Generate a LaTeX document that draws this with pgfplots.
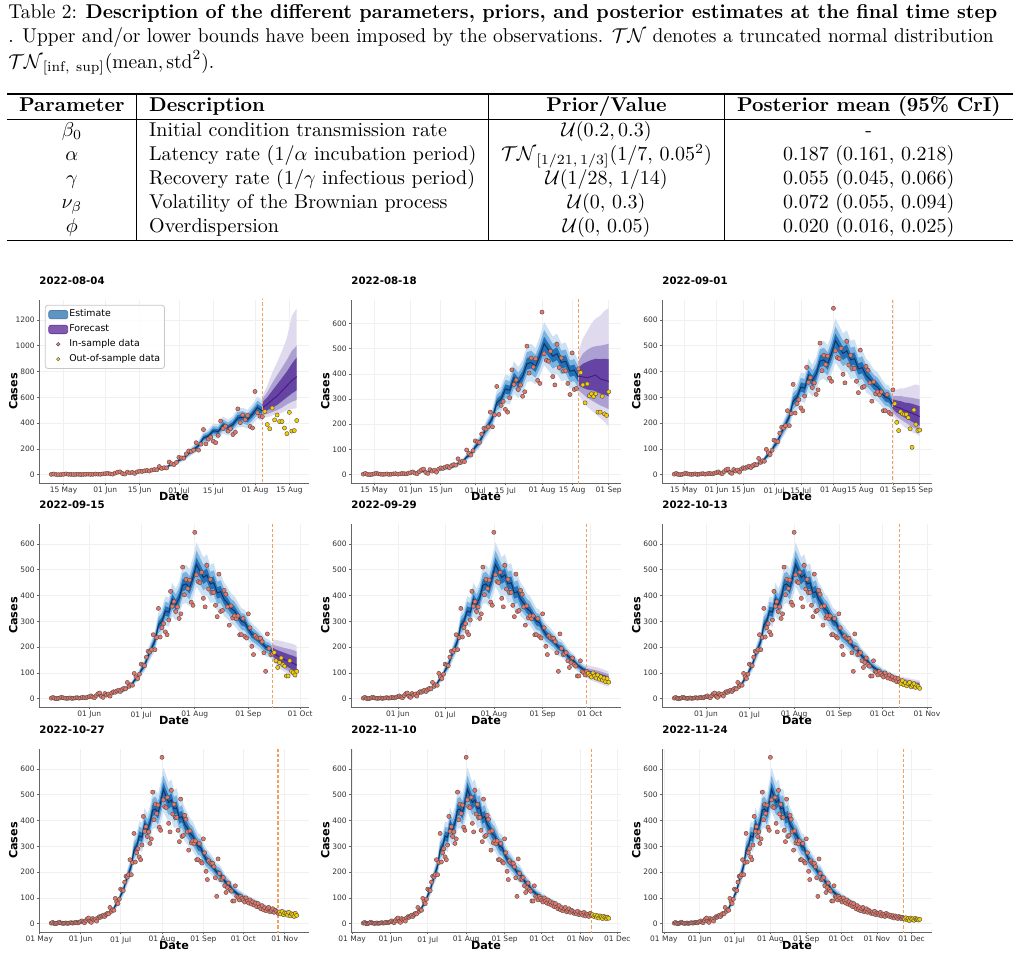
\documentclass[border=0pt]{standalone}
\usepackage{fontspec}
\usepackage{array}
\usepackage{graphicx}
\usepackage{pgfplots}
\usepackage{pgfplotstable}
\pgfplotsset{compat=1.18}
\usepgfplotslibrary{fillbetween}

\newfontfamily\dejavu{DejaVu Sans}
\newcommand{\tickfont}{\dejavu\fontsize{3.75}{4.3}\selectfont}
\newcommand{\labfont}{\dejavu\bfseries\fontsize{5.6}{6.5}\selectfont}
\newcommand{\titfont}{\dejavu\bfseries\fontsize{5.1}{6}\selectfont}
\newcommand{\legfont}{\dejavu\fontsize{4.7}{5.5}\selectfont}

\definecolor{estL}{HTML}{CDE1F3}
\definecolor{estM}{HTML}{7AB2E0}
\definecolor{estD}{HTML}{2270B5}
\definecolor{estLine}{HTML}{0E3466}
\definecolor{estSw}{HTML}{4682B4}
\definecolor{fcL}{HTML}{DFDAED}
\definecolor{fcM}{HTML}{ABA0D1}
\definecolor{fcD}{HTML}{6544A4}
\definecolor{fcLine}{HTML}{4B1A8C}
\definecolor{fcSw}{HTML}{6B3FA0}
\definecolor{insamp}{HTML}{E87668}
\definecolor{outsamp}{HTML}{F5CD00}
\definecolor{cutcol}{HTML}{F2A060}

% daily reported cases (day 0 = 1 May 2022)
\pgfplotstableread[row sep=\\]{
d c\\
9 2\\ 10 5\\ 11 1\\ 12 0\\ 13 1\\ 14 3\\ 15 6\\ 16 3\\ 17 2\\ 18 1\\ 19 2\\ 20 3\\ 21 1\\ 22 2\\ 23 3\\ 24 4\\ 25 2\\ 26 3\\ 27 5\\ 28 4\\ 29 3\\ 30 6\\
31 8\\ 32 11\\ 33 6\\ 34 4\\ 35 12\\ 36 19\\ 37 22\\ 38 9\\ 39 5\\ 40 20\\ 41 14\\ 42 18\\ 43 10\\ 44 22\\
45 27\\ 46 25\\ 47 30\\ 48 33\\ 49 28\\ 50 36\\ 51 40\\ 52 38\\ 53 63\\ 54 48\\ 55 54\\ 56 52\\ 57 98\\ 58 85\\ 59 78\\ 60 95\\
61 134\\ 62 130\\ 63 128\\ 64 161\\ 65 184\\ 66 181\\ 67 190\\ 68 248\\ 69 190\\ 70 237\\ 71 350\\ 72 239\\ 73 275\\ 74 291\\ 75 259\\ 76 248\\ 77 305\\ 78 416\\ 79 358\\ 80 376\\ 81 338\\ 82 356\\ 83 311\\ 84 329\\ 85 510\\ 86 403\\ 87 463\\ 88 427\\ 89 460\\ 90 374\\ 91 362\\ 92 645\\ 93 480\\ 94 454\\ 95 450\\
96 490\\ 97 389\\ 98 356\\ 99 517\\ 100 425\\ 101 463\\ 102 412\\ 103 412\\ 104 362\\ 105 318\\ 106 483\\ 107 338\\ 108 342\\ 109 420\\
110 405\\ 111 356\\ 112 285\\ 113 360\\ 114 313\\ 115 321\\ 116 310\\ 117 321\\ 118 248\\ 119 248\\ 120 311\\ 121 241\\ 122 235\\ 123 329\\
124 275\\ 125 203\\ 126 171\\ 127 244\\ 128 236\\ 129 234\\ 130 234\\ 131 221\\ 132 178\\ 133 106\\ 134 251\\ 135 195\\ 136 171\\ 137 173\\
138 179\\ 139 147\\ 140 121\\ 141 140\\ 142 158\\ 143 132\\ 144 126\\ 145 88\\ 146 88\\ 147 147\\ 148 106\\ 149 101\\ 150 92\\ 151 106\\
152 98\\ 153 90\\ 154 84\\ 155 100\\ 156 88\\ 157 80\\ 158 92\\ 159 76\\ 160 85\\ 161 72\\ 162 80\\ 163 66\\ 164 78\\ 165 64\\
166 58\\ 167 70\\ 168 54\\ 169 62\\ 170 50\\ 171 58\\ 172 63\\ 173 46\\ 174 52\\ 175 58\\ 176 44\\ 177 52\\ 178 47\\ 179 40\\
180 45\\ 181 38\\ 182 48\\ 183 35\\ 184 42\\ 185 40\\ 186 33\\ 187 44\\ 188 30\\ 189 38\\ 190 35\\ 191 28\\ 192 40\\ 193 32\\
194 35\\ 195 28\\ 196 33\\ 197 25\\ 198 31\\ 199 22\\ 200 30\\ 201 26\\ 202 20\\ 203 28\\ 204 24\\ 205 19\\ 206 25\\ 207 21\\
208 18\\ 209 23\\ 210 15\\ 211 20\\ 212 12\\ 213 22\\ 214 17\\ 215 19\\ 216 13\\ 217 21\\ 218 16\\ 219 18\\ 220 14\\ 221 17\\
}\obstab

% fitted incidence: mean and 50/80/95% credible bands
\pgfplotstableread[row sep=\\]{
d m l1 h1 l2 h2 l3 h3\\
9 2 1 3 0 4 0 5\\ 11 2 1 3 0 4 0 5\\ 13 2 1 3 0 4 0 5\\ 15 3 2 4 1 5 0 6\\ 17 3 2 4 1 5 0 6\\
19 3 2 4 1 5 0 6\\ 21 3 2 4 1 5 0 6\\ 23 3 2 4 1 5 0 6\\ 25 3 2 4 1 5 0 6\\ 27 4 3 5 2 6 0 8\\
29 4 3 5 2 6 0 8\\ 31 6 5 7 3 9 2 10\\ 33 8 7 9 5 11 4 12\\ 35 10 8 12 7 13 5 15\\ 37 13 11 15 10 16 8 18\\
39 12 10 14 9 15 7 17\\ 41 15 13 17 11 19 10 20\\ 43 17 15 19 13 21 11 23\\ 45 20 18 22 16 24 14 26\\ 47 25 23 27 20 30 18 32\\
49 27 25 29 22 32 20 34\\ 51 33 30 36 28 38 25 41\\ 53 45 42 48 38 52 35 55\\ 55 50 46 54 43 57 39 61\\ 57 70 65 75 61 79 56 84\\
59 82 77 87 72 92 66 98\\ 61 110 103 117 97 123 89 131\\ 63 130 122 138 115 145 106 154\\ 65 165 156 174 146 184 136 194\\ 67 195 184 206 173 217 161 229\\
69 225 213 237 200 250 186 264\\ 71 285 270 300 254 316 236 334\\ 73 300 284 316 268 332 249 351\\ 75 340 322 358 304 376 283 397\\ 77 335 317 353 299 371 278 392\\
79 385 365 405 344 426 320 450\\ 81 365 346 384 326 404 304 426\\ 83 390 369 411 349 431 325 455\\ 85 440 417 463 394 486 367 513\\ 87 445 422 468 398 492 371 519\\
89 430 407 453 385 475 358 502\\ 91 470 445 495 421 519 392 548\\ 93 520 493 547 466 574 434 606\\ 95 495 469 521 443 547 413 577\\ 97 470 445 495 421 519 392 548\\
99 480 455 505 430 530 400 560\\ 101 445 422 468 398 492 371 519\\ 103 450 426 474 403 497 375 525\\ 105 410 388 432 367 453 341 479\\ 107 415 393 437 371 459 346 484\\
109 385 365 405 344 426 320 450\\ 111 370 350 390 331 409 308 432\\ 113 350 331 369 313 387 291 409\\ 115 340 322 358 304 376 283 397\\ 117 320 303 337 286 354 266 374\\
119 300 284 316 268 332 249 351\\ 121 295 279 311 263 327 245 345\\ 123 270 255 285 241 299 224 316\\ 125 250 236 264 223 277 207 293\\ 127 240 227 253 214 266 199 281\\
129 228 216 240 203 253 189 267\\ 131 215 203 227 191 239 178 252\\ 133 200 189 211 178 222 165 235\\ 135 195 184 206 173 217 161 229\\ 137 182 172 192 162 202 150 214\\
139 165 156 174 146 184 136 194\\ 141 155 146 164 137 173 127 183\\ 143 145 137 153 128 162 119 171\\ 145 130 122 138 115 145 106 154\\ 147 122 115 129 108 136 99 145\\
149 113 106 120 100 126 92 134\\ 151 108 102 114 95 121 88 128\\ 153 100 94 106 88 112 81 119\\ 155 95 89 101 83 107 77 113\\ 157 90 85 95 79 101 73 107\\
159 86 81 91 75 97 70 102\\ 161 81 76 86 71 91 65 97\\ 163 77 72 82 67 87 62 92\\ 165 71 67 75 62 80 57 85\\ 167 66 62 70 57 75 52 80\\
169 62 58 66 54 70 49 75\\ 171 59 55 63 51 67 47 71\\ 173 55 51 59 47 63 43 67\\ 175 52 48 56 45 59 41 63\\ 177 49 46 52 42 56 38 60\\
179 46 43 49 39 53 36 56\\ 181 44 41 47 38 50 34 54\\ 183 42 39 45 36 48 32 52\\ 185 40 37 43 34 46 31 49\\ 187 38 35 41 32 44 29 47\\
189 36 33 39 30 42 27 45\\ 191 35 32 38 29 41 26 44\\ 193 33 30 36 28 38 25 41\\ 195 31 28 34 26 36 23 39\\ 197 29 27 31 24 34 21 37\\
199 28 26 30 23 33 21 35\\ 201 26 24 28 21 31 19 33\\ 203 25 23 27 20 30 18 32\\ 205 24 22 26 20 28 17 31\\ 207 23 21 25 19 27 16 30\\
}\esttab

% two-week forecasts from each cut-off date
\pgfplotstableread[row sep=\\]{
d m l1 h1 l2 h2 l3 h3\\
95 520 490 560 465 585 445 610\\ 97 545 500 600 470 640 445 690\\ 99 580 520 650 485 710 460 790\\ 101 610 540 700 500 770 470 870\\
103 650 570 750 520 830 480 960\\ 105 690 600 800 545 890 500 1060\\ 107 730 630 860 565 960 510 1230\\ 109 760 655 910 580 1000 515 1290\\
}\fcA
\pgfplotstableread[row sep=\\]{
d m l1 h1 l2 h2 l3 h3\\
109 390 355 425 335 450 315 490\\ 111 388 345 440 320 480 290 540\\ 113 385 338 448 305 495 270 570\\ 115 390 335 455 295 505 255 600\\
117 395 332 460 285 510 240 620\\ 119 380 322 458 275 512 225 630\\ 121 375 318 460 268 515 210 650\\ 123 370 310 458 260 520 190 660\\
}\fcB
\pgfplotstableread[row sep=\\]{
d m l1 h1 l2 h2 l3 h3\\
123 272 255 292 242 305 230 325\\ 125 262 240 288 225 305 210 330\\ 127 258 232 285 215 305 198 335\\ 129 250 222 280 205 302 185 335\\
131 245 215 278 195 300 175 340\\ 133 238 205 275 185 298 165 345\\ 135 232 198 270 178 295 158 350\\ 137 225 190 265 170 292 150 345\\
}\fcC
\pgfplotstableread[row sep=\\]{
d m l1 h1 l2 h2 l3 h3\\
137 182 168 198 158 210 148 230\\ 139 170 152 190 142 205 132 228\\ 141 162 142 185 130 202 118 225\\ 143 155 133 180 120 198 108 222\\
145 148 125 175 112 195 100 218\\ 147 142 118 170 104 192 92 215\\ 149 137 112 166 98 188 85 212\\ 151 130 105 160 92 183 78 205\\
}\fcD
\pgfplotstableread[row sep=\\]{
d m l1 h1 l2 h2 l3 h3\\
151 100 92 110 86 118 80 130\\ 153 97 87 108 81 116 74 128\\ 155 93 82 105 76 113 68 125\\ 157 89 78 101 71 110 63 122\\
159 85 74 98 67 107 59 119\\ 161 81 70 94 63 103 54 115\\ 163 77 66 90 59 99 50 110\\ 165 73 62 86 55 95 46 106\\
}\fcE
\pgfplotstableread[row sep=\\]{
d m l1 h1 l2 h2 l3 h3\\
165 68 62 75 58 80 54 86\\ 167 65 58 72 54 78 50 84\\ 169 62 55 70 50 76 46 82\\ 171 59 52 67 47 73 43 80\\
173 56 49 64 44 70 40 77\\ 175 54 46 62 41 68 37 75\\ 177 52 44 60 39 66 35 73\\ 179 50 42 58 37 64 33 71\\
}\fcF
\pgfplotstableread[row sep=\\]{
d m l1 h1 l2 h2 l3 h3\\
179 45 41 49 38 52 35 56\\ 181 43 39 48 36 51 33 55\\ 183 42 37 47 34 50 31 54\\ 185 40 35 45 32 49 29 53\\
187 38 33 44 30 47 27 51\\ 189 37 32 42 29 46 26 50\\ 191 35 30 41 27 44 24 49\\ 193 34 29 40 26 43 23 48\\
}\fcG
\pgfplotstableread[row sep=\\]{
d m l1 h1 l2 h2 l3 h3\\
193 32 29 35 27 37 25 40\\ 195 31 28 34 26 37 24 40\\ 197 30 27 34 25 36 23 39\\ 199 29 26 33 24 35 22 39\\
201 28 25 32 23 35 21 38\\ 203 27 24 31 22 34 20 37\\ 205 26 23 30 21 33 19 36\\ 207 25 22 29 20 32 18 35\\
}\fcH
\pgfplotstableread[row sep=\\]{
d m l1 h1 l2 h2 l3 h3\\
207 22 20 24 19 26 17 28\\ 209 21 19 24 18 25 16 28\\ 211 21 19 23 17 25 15 27\\ 213 20 18 23 16 25 15 27\\
215 19 17 22 16 24 14 27\\ 217 19 17 22 15 24 14 26\\ 219 18 16 21 15 23 13 26\\ 221 18 16 21 14 23 13 26\\
}\fcI

% bands of the fit up to the cut-off day #1
\newcommand{\drawest}[1]{%
  \addplot[name path=el3, draw=none, forget plot, restrict x to domain=0:#1] table[x=d, y=l3] {\esttab};
  \addplot[name path=eh3, draw=none, forget plot, restrict x to domain=0:#1] table[x=d, y=h3] {\esttab};
  \addplot[fill=estL, draw=none, forget plot] fill between[of=el3 and eh3];
  \addplot[name path=el2, draw=none, forget plot, restrict x to domain=0:#1] table[x=d, y=l2] {\esttab};
  \addplot[name path=eh2, draw=none, forget plot, restrict x to domain=0:#1] table[x=d, y=h2] {\esttab};
  \addplot[fill=estM, draw=none, forget plot] fill between[of=el2 and eh2];
  \addplot[name path=el1, draw=none, forget plot, restrict x to domain=0:#1] table[x=d, y=l1] {\esttab};
  \addplot[name path=eh1, draw=none, forget plot, restrict x to domain=0:#1] table[x=d, y=h1] {\esttab};
  \addplot[fill=estD, draw=none, forget plot] fill between[of=el1 and eh1];
  \addplot[estLine, line width=0.5pt, forget plot, restrict x to domain=0:#1] table[x=d, y=m] {\esttab};
}
% forecast bands from table #1
\newcommand{\drawfc}[1]{%
  \addplot[name path=fl3, draw=none, forget plot] table[x=d, y=l3] {#1};
  \addplot[name path=fh3, draw=none, forget plot] table[x=d, y=h3] {#1};
  \addplot[fill=fcL, draw=none, forget plot] fill between[of=fl3 and fh3];
  \addplot[name path=fl2, draw=none, forget plot] table[x=d, y=l2] {#1};
  \addplot[name path=fh2, draw=none, forget plot] table[x=d, y=h2] {#1};
  \addplot[fill=fcM, draw=none, forget plot] fill between[of=fl2 and fh2];
  \addplot[name path=fl1, draw=none, forget plot] table[x=d, y=l1] {#1};
  \addplot[name path=fh1, draw=none, forget plot] table[x=d, y=h1] {#1};
  \addplot[fill=fcD, draw=none, forget plot] fill between[of=fl1 and fh1];
  \addplot[fcLine, line width=0.5pt, forget plot] table[x=d, y=m] {#1};
}
% observations: in-sample up to #1, out-of-sample up to #2
\newcommand{\drawobs}[2]{%
  \addplot[only marks, mark=*, mark size=1.05pt, mark options={fill=insamp, draw=black!70, line width=0.2pt}, forget plot, restrict x to domain=0:#1] table[x=d, y=c] {\obstab};
  \addplot[only marks, mark=*, mark size=1.05pt, mark options={fill=outsamp, draw=black!70, line width=0.2pt}, forget plot, restrict x to domain=#1.5:#2.5] table[x=d, y=c] {\obstab};
  \addplot[cutcol, line width=0.6pt, dash pattern=on 1.6pt off 1pt, forget plot] coordinates {(#1,-100) (#1,1400)};
}

\pgfplotsset{
  panel/.style={
    scale only axis, width=135pt, height=91.5pt, anchor=north west,
    axis x line*=bottom, axis y line*=left,
    axis line style={draw=black!60, line width=0.4pt},
    grid=major, grid style={draw=black!6, line width=0.3pt},
    major tick length=1.2pt, tick align=outside,
    tick style={draw=black!60, line width=0.3pt},
    ticklabel style={font=\tickfont, text=black!80, inner sep=0.8pt},
    /pgf/number format/assume math mode=true,
    /pgf/number format/1000 sep={},
    xlabel={Date}, ylabel={Cases},
    label style={font=\labfont, inner sep=0pt},
    xlabel style={at={(axis description cs:0.5,-0.05)}, anchor=north},
    ylabel style={at={(axis description cs:-0.078,0.5)}, anchor=south},
    title style={font=\titfont, at={(axis description cs:0,1.02)}, anchor=base west, inner sep=0pt},
    ymin=-32.25, ymax=677.25, ytick={0,100,...,600},
  },
  early/.style={xtick={14,31,45,61,75,92,106,123,137}, xticklabels={15 May,01 Jun,15 Jun,01 Jul,15 Jul,01 Aug,15 Aug,01 Sep,15 Sep}},
  mid/.style={xtick={31,61,92,123,153,184}, xticklabels={01 Jun,01 Jul,01 Aug,01 Sep,01 Oct,01 Nov}},
  late/.style={xtick={0,31,61,92,123,153,184,214}, xticklabels={01 May,01 Jun,01 Jul,01 Aug,01 Sep,01 Oct,01 Nov,01 Dec}},
}

\begin{document}
\begin{tikzpicture}

\node[anchor=base west, inner sep=0pt] at (4pt,-9.5pt) {\resizebox{494.5pt}{\height}{\begin{tabular}[t]{@{}l@{}}
Table 2: \textbf{Description of the different parameters, priors, and posterior estimates at the final time step}\\
. Upper and/or lower bounds have been imposed by the observations. $\mathcal{TN}$ denotes a truncated normal distribution\\
$\mathcal{TN}_{[\mathrm{inf,\ sup}]}(\mathrm{mean}, \mathrm{std}^2)$.
\end{tabular}}};

\node[anchor=north west, inner sep=0pt] at (3.5pt,-46.5pt) {%
\begin{tabular}{w{c}{52.5pt}|w{l}{163.5pt}|w{c}{105.5pt}|w{c}{132pt}}
\noalign{\hrule height 0.8pt}
\textbf{Parameter} & \textbf{Description} & \textbf{Prior/Value} & \textbf{Posterior mean (95\% CrI)}\\
\hline
$\beta_0$ & Initial condition transmission rate & $\mathcal{U}(0.2, 0.3)$ & -\\
$\alpha$ & Latency rate ($1/\alpha$ incubation period) & $\mathcal{TN}_{[1/21,\,1/3]}(1/7,\,0.05^2)$ & 0.187 (0.161, 0.218)\\
$\gamma$ & Recovery rate ($1/\gamma$ infectious period) & $\mathcal{U}(1/28,\,1/14)$ & 0.055 (0.045, 0.066)\\
$\nu_\beta$ & Volatility of the Brownian process & $\mathcal{U}(0,\,0.3)$ & 0.072 (0.055, 0.094)\\
$\phi$ & Overdispersion & $\mathcal{U}(0,\,0.05)$ & 0.020 (0.016, 0.025)\\
\noalign{\hrule height 0.8pt}
\end{tabular}};

% row 1
\begin{axis}[panel, early, at={(19.5pt,-150pt)}, xmin=4, xmax=114,
  ymin=-64.5, ymax=1354.5, ytick={0,200,...,1200}, title={2022-08-04},
  legend style={at={(axis description cs:0.022,0.973)}, anchor=north west, font=\legfont,
    draw=black!22, fill=white, fill opacity=0.85, text opacity=1, rounded corners=1.2pt,
    inner xsep=1.5pt, inner ysep=1.5pt, row sep=1.2pt, nodes={inner sep=0.6pt}, cells={anchor=west}},
  legend cell align=left]
\drawest{95}
\drawfc{\fcA}
\drawobs{95}{109}
\addlegendimage{legend image code/.code={\fill[estSw] (0pt,-2.1pt) rectangle (9.5pt,2.1pt);}}
\addlegendentry{Estimate}
\addlegendimage{legend image code/.code={\fill[fcSw] (0pt,-2.1pt) rectangle (9.5pt,2.1pt);}}
\addlegendentry{Forecast}
\addlegendimage{legend image code/.code={\draw[fill=insamp, draw=black!70, line width=0.2pt] (4.75pt,0pt) circle (0.9pt);}}
\addlegendentry{In-sample data}
\addlegendimage{legend image code/.code={\draw[fill=outsamp, draw=black!70, line width=0.2pt] (4.75pt,0pt) circle (0.9pt);}}
\addlegendentry{Out-of-sample data}
\end{axis}

\begin{axis}[panel, early, at={(175.5pt,-150pt)}, xmin=3.3, xmax=128.7,
  ymin=-33, ymax=693, title={2022-08-18}]
\drawest{109}
\drawfc{\fcB}
\drawobs{109}{123}
\end{axis}

\begin{axis}[panel, early, at={(331pt,-150pt)}, xmin=2.6, xmax=143.4, title={2022-09-01}]
\drawest{123}
\drawfc{\fcC}
\drawobs{123}{137}
\end{axis}

% row 2
\begin{axis}[panel, mid, at={(19.5pt,-262pt)}, xmin=1.9, xmax=158.1, title={2022-09-15}]
\drawest{137}
\drawfc{\fcD}
\drawobs{137}{151}
\end{axis}

\begin{axis}[panel, mid, at={(175.5pt,-262pt)}, xmin=1.2, xmax=172.8, title={2022-09-29}]
\drawest{151}
\drawfc{\fcE}
\drawobs{151}{165}
\end{axis}

\begin{axis}[panel, mid, at={(331pt,-262pt)}, xmin=0.5, xmax=187.5, title={2022-10-13}]
\drawest{165}
\drawfc{\fcF}
\drawobs{165}{179}
\end{axis}

% row 3
\begin{axis}[panel, late, at={(19.5pt,-374.5pt)}, xmin=-0.2, xmax=202.2, title={2022-10-27}]
\drawest{179}
\drawfc{\fcG}
\drawobs{179}{193}
\end{axis}

\begin{axis}[panel, late, at={(175.5pt,-374.5pt)}, xmin=-0.9, xmax=216.9, title={2022-11-10}]
\drawest{193}
\drawfc{\fcH}
\drawobs{193}{207}
\end{axis}

\begin{axis}[panel, late, at={(331pt,-374.5pt)}, xmin=-1.6, xmax=231.6, title={2022-11-24}]
\drawest{207}
\drawfc{\fcI}
\drawobs{207}{221}
\end{axis}

% fixed page frame
\pgfresetboundingbox
\path[use as bounding box] (0,0) rectangle (508pt,-478pt);
\end{tikzpicture}
\end{document}
